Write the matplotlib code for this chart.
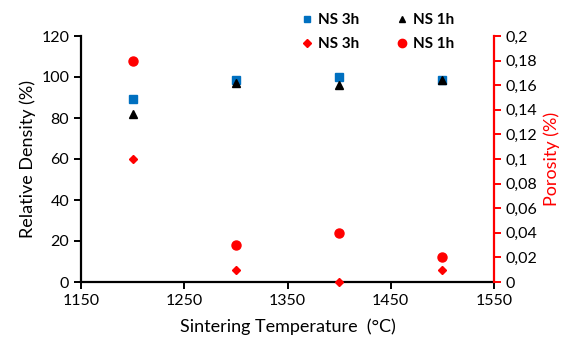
import matplotlib
matplotlib.use('Agg')
import matplotlib.pyplot as plt
from matplotlib.lines import Line2D

plt.rcParams['font.family'] = ['Lato', 'DejaVu Sans']

temps = [1200, 1300, 1400, 1500]
dens_3h = [89.5, 98.5, 100, 98.5]
dens_1h = [82, 97, 96, 98.5]
por_3h = [0.1, 0.01, 0.0, 0.01]
por_1h = [0.18, 0.03, 0.04, 0.02]

xticks = [1150, 1250, 1350, 1450, 1550]
yticks = [0, 20, 40, 60, 80, 100, 120]
y2ticks = [0, 0.02, 0.04, 0.06, 0.08, 0.1, 0.12, 0.14, 0.16, 0.18, 0.2]

fig = plt.figure(figsize=(5.73, 3.46), dpi=100)
ax = fig.add_axes([81/573, 1-282/346, 413/573, 246/346])
ax2 = ax.twinx()

ax.plot(temps, dens_3h, 's', color='#0070c0', ms=6, clip_on=False, zorder=3)
ax.plot(temps, dens_1h, '^', color='black', ms=6, clip_on=False, zorder=3)
ax2.plot(temps, por_3h, 'D', color='red', ms=4, clip_on=False, zorder=3)
ax2.plot(temps, por_1h, 'o', color='red', ms=6.5, clip_on=False, zorder=3)

ax.set_xlim(1150, 1550)
ax.set_ylim(0, 120)
ax2.set_ylim(0, 0.2)
ax.set_xticks(xticks)
ax.set_yticks(yticks)
ax2.set_yticks(y2ticks)
ax2.set_yticklabels([('%g' % v).replace('.', ',') for v in y2ticks])

for a in (ax, ax2):
    a.spines['top'].set_visible(False)
ax2.spines['left'].set_visible(False)
ax2.spines['bottom'].set_visible(False)
ax.spines['right'].set_visible(False)
ax.spines['left'].set_linewidth(1.6)
ax.spines['bottom'].set_linewidth(1.6)
ax2.spines['right'].set_color('red')
ax2.spines['right'].set_linewidth(1.6)

ax.tick_params(direction='out', length=5, width=1.4, labelsize=11.5, colors='black')
ax2.tick_params(direction='out', length=5, width=1.4, labelsize=11.5, color='red', labelcolor='black')

ax.set_xlabel('Sintering Temperature  (°C)', fontsize=13, labelpad=8)
ax.set_ylabel('Relative Density (%)', fontsize=13, labelpad=4)
ax2.set_ylabel('Porosity (%)', fontsize=13, color='red', labelpad=4)

handles = [
    Line2D([], [], ls='', marker='s', color='#0070c0', ms=5),
    Line2D([], [], ls='', marker='D', color='red', ms=4),
    Line2D([], [], ls='', marker='^', color='black', ms=5),
    Line2D([], [], ls='', marker='o', color='red', ms=6),
]
labels = ['NS 3h', 'NS 3h', 'NS 1h', 'NS 1h']
fig.legend(handles, labels, ncol=2, loc='center', bbox_to_anchor=(378/573, 1-32/346),
           frameon=False, prop={'weight': 'bold', 'size': 11}, handlelength=0.7,
           handletextpad=0.4, columnspacing=2.4, labelspacing=0.65)

fig.savefig('out.png', dpi=100)
